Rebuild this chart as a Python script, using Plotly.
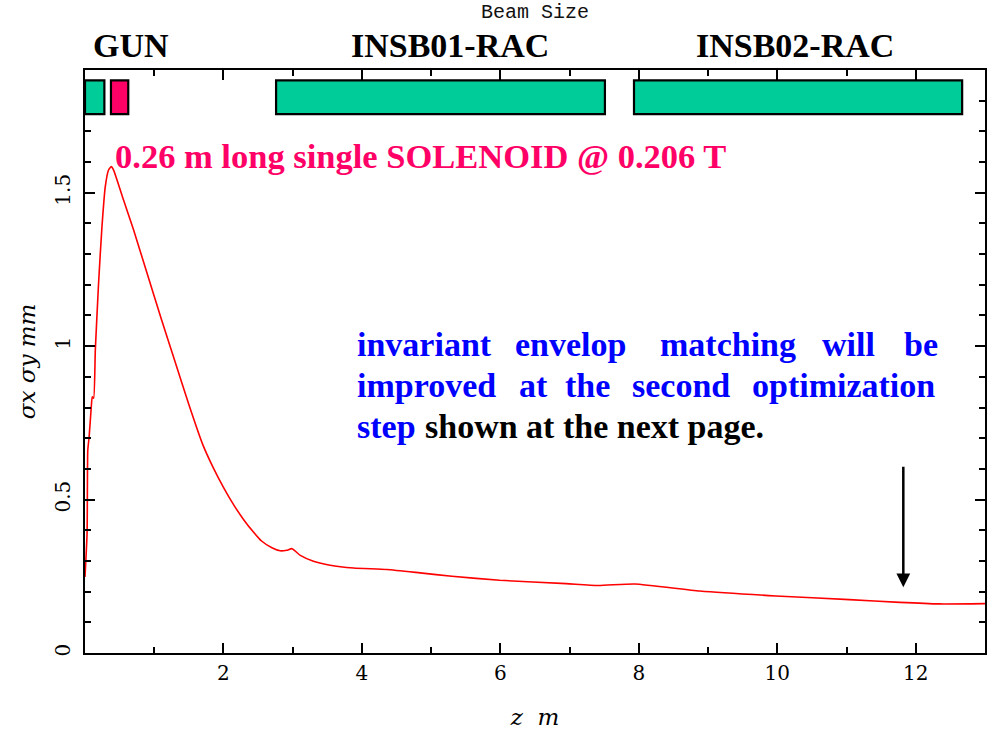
import plotly.graph_objects as go

# ---- data ----
z_m = [0.0, 0.03, 0.04, 0.06, 0.09, 0.105, 0.125, 0.149, 0.196, 0.245, 0.293, 0.34, 0.38,
       0.413, 0.557, 0.7, 0.9, 1.1, 1.3, 1.5, 1.7, 1.85, 2.0, 2.15, 2.3, 2.43, 2.55, 2.7,
       2.82, 2.915, 2.99, 3.11, 3.30, 3.54, 3.88, 4.36, 4.84, 5.3, 5.99, 6.95,
       7.41, 7.94, 8.88, 9.98, 11.04, 11.77, 12.34, 13.0]
sigma_mm = [0.248, 0.39, 0.66, 0.705, 0.80, 0.835, 0.83, 0.987, 1.205, 1.389, 1.52, 1.574, 1.585,
            1.574, 1.476, 1.38, 1.235, 1.09, 0.95, 0.81, 0.68, 0.605, 0.54, 0.482, 0.432, 0.395,
            0.365, 0.343, 0.333, 0.335, 0.340, 0.318, 0.299, 0.286, 0.277, 0.272, 0.261, 0.25,
            0.237, 0.226, 0.22, 0.225, 0.202, 0.186, 0.174, 0.165, 0.16, 0.161]

elem_start = [0.0, 0.375, 2.76, 7.93]
elem_end = [0.28, 0.625, 7.51, 12.67]
elem_color = ["#00CC99", "#FF0066", "#00CC99", "#00CC99"]

x_ticks = [2, 4, 6, 8, 10, 12]
y_ticks = [0, 0.5, 1, 1.5]
y_tick_text = ["0", "0.5", "1", "1.5"]

arrow_z = 11.82
arrow_y_from = 0.612
arrow_y_to = 0.214

# ---- figure ----
fig = go.Figure()
fig.add_trace(go.Scatter(x=z_m, y=sigma_mm, mode="lines",
                         line=dict(color="#FF0000", width=1.6, shape="spline", smoothing=0.5),
                         showlegend=False, hoverinfo="skip"))

BOX_Y0, BOX_Y1 = 1.756, 1.866
for s, e, c in zip(elem_start, elem_end, elem_color):
    fig.add_shape(type="rect", xref="x", yref="y", x0=s, x1=e, y0=BOX_Y0, y1=BOX_Y1,
                  fillcolor=c, line=dict(color="black", width=2.2), layer="above")

L, R, T, B = 85, 10, 70, 77
PW, PH = 995 - L - R, 730 - T - B


def px(x):
    return (x - L) / PW


def py(y):
    return (730 - B - y) / PH


serif_b = dict(family="Liberation Serif", size=34, color="black")
ann = []
ann.append(dict(text="Beam Size", x=px(535), y=py(13), font=dict(family="Liberation Mono", size=20, color="#111111")))
for t, cx in [("<b>GUN</b>", 131), ("<b>INSB01-RAC</b>", 450), ("<b>INSB02-RAC</b>", 795)]:
    ann.append(dict(text=t, x=px(cx), y=py(45), font=serif_b))
ann.append(dict(text="<b>0.26 m long single SOLENOID @ 0.206 T</b>", x=px(113), y=py(156),
                xanchor="left", font=dict(family="Liberation Serif", size=34.5, color="#FF0066")))

words = [
    ("invariant", 355, 344, "blue"), ("envelop", 513, 344, "blue"), ("matching", 658, 344, "blue"),
    ("will", 820, 344, "blue"), ("be", 902, 344, "blue"),
    ("improved", 355, 385, "blue"), ("at", 517, 385, "blue"), ("the", 563, 385, "blue"),
    ("second", 630, 385, "blue"), ("optimization", 750, 385, "blue"),
    ("step", 355, 426, "blue"), ("shown at the next page.", 423, 426, "black"),
]
for w, x0, yc, col in words:
    ann.append(dict(text="<b>" + w + "</b>", x=px(x0), y=py(yc), xanchor="left",
                    font=dict(family="Liberation Serif", size=34, color=col)))

for a in ann:
    a.setdefault("xanchor", "center")
    a.update(xref="paper", yref="paper", showarrow=False, yanchor="middle")

ann.append(dict(x=arrow_z, y=arrow_y_to, ax=arrow_z, ay=arrow_y_from, xref="x", yref="y",
                axref="x", ayref="y", showarrow=True, arrowhead=2, arrowsize=1.1,
                arrowwidth=2.5, arrowcolor="black", text=""))

fig.update_layout(
    width=995, height=730, margin=dict(l=L, r=R, t=T, b=B, autoexpand=False),
    paper_bgcolor="white", plot_bgcolor="white",
    annotations=ann,
    xaxis=dict(range=[0, 13], showgrid=False, zeroline=False, showline=True, linecolor="black",
               linewidth=1.5, mirror="ticks", ticks="inside", ticklen=10, tickwidth=1.5,
               tickcolor="black", tickvals=x_ticks, automargin=False, ticklabelstandoff=1,
               tickfont=dict(family="DejaVu Serif", size=20, color="black"),
               minor=dict(dtick=1, tick0=0, ticks="inside", ticklen=6, tickwidth=1.5, tickcolor="black"),
               title=dict(text="<i>z&nbsp;&nbsp;m</i>", standoff=27,
                          font=dict(family="DejaVu Serif", size=23, color="black"))),
    yaxis=dict(range=[0, 1.9], showgrid=False, zeroline=False, showline=True, linecolor="black",
               linewidth=1.5, mirror="ticks", ticks="inside", ticklen=10, tickwidth=1.5,
               tickcolor="black", tickvals=y_ticks, ticktext=y_tick_text, tickangle=-90,
               automargin=False, ticklabelstandoff=5,
               tickfont=dict(family="DejaVu Serif", size=20, color="black"),
               minor=dict(dtick=0.1, tick0=0, ticks="inside", ticklen=6, tickwidth=1.5, tickcolor="black"),
               title=dict(text="<i>σx σy mm</i>", standoff=9,
                          font=dict(family="DejaVu Serif", size=23, color="black"))),
)

fig.write_html("out.html", config={"displayModeBar": False},
               post_script="document.body.style.margin='0px';")
